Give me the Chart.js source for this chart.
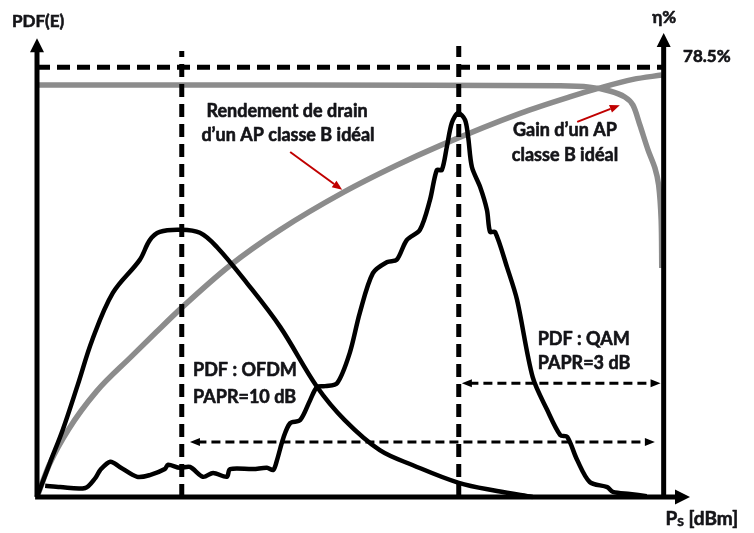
<!DOCTYPE html>
<html><head><meta charset="utf-8">
<script src="https://cdn.jsdelivr.net/npm/chart.js@4.4.1/dist/chart.umd.min.js"></script>
<style>html,body{margin:0;padding:0;background:#fff;}#wrap{width:754px;height:533px;}</style>
</head><body><div id="wrap"><canvas id="c" width="754" height="533"></canvas></div>
<script>
// Output power axis (normalised, 0 = origin, 100 = saturation) and PDF / efficiency values
const ofdmPs  = [0, 2.1, 4.1, 6.5, 8.8, 12.1, 16.4, 18.0, 19.6, 22.8, 26.0, 28.7, 33.5, 38.8, 44.7, 49.1, 54.7, 60.0, 67.3, 73.4, 79.1];
const ofdmPdf = [0, 8.1, 15.6, 26.1, 36.5, 47.5, 55.2, 59.8, 61.7, 62.2, 61.5, 58.2, 49.8, 39.6, 25.6, 17.9, 10.9, 7.4, 3.3, 1.4, 0];

const qamPs  = [1.3, 3.7, 7.7, 9.3, 10.1, 11.7, 13.2, 16.0, 18.0, 20.4, 20.9, 22.8, 24.4, 26.5, 28.1, 30.3, 30.8, 34.5, 36.7, 37.7, 38.3, 39.3, 40.4, 42.0, 43.6, 44.7, 46.0, 47.9, 49.9, 51.5, 53.6, 55.9, 57.4, 59.0, 61.1, 62.7, 63.8, 64.6, 65.4, 66.2, 67.2, 68.3, 68.8, 69.4, 70.7, 71.8, 72.3, 73.1, 75.0, 76.6, 79.1, 81.4, 83.5, 84.6, 86.2, 88.2, 91.0, 91.9, 94.6, 97.3];
const qamPdf = [2.6, 2.3, 2.1, 4.4, 6.3, 8.2, 7.0, 4.7, 5.1, 6.5, 7.5, 6.8, 7.0, 4.7, 5.6, 4.7, 6.5, 6.5, 6.8, 6.3, 8.6, 13.7, 17.2, 17.9, 22.6, 25.6, 25.8, 26.5, 33.5, 42.8, 52.1, 54.7, 55.2, 59.8, 62.2, 69.1, 76.1, 76.1, 81.5, 87.1, 89.4, 87.8, 83.8, 76.8, 72.2, 66.8, 61.7, 61.7, 53.5, 45.9, 27.9, 20.3, 14.4, 14.0, 8.6, 3.5, 2.3, 1.2, 0.7, 0.2];

// Drain efficiency of an ideal class B PA (eta %, 78.5 at saturation)
const effPs  = [0, 2, 5, 9.5, 15, 19, 23.1, 30.8, 38.8, 48.8, 57.4, 64.3, 77.1, 85, 89.4, 95.1, 99.7];
const effEta = [0, 6.0, 12.3, 19.3, 25.6, 30.1, 34.6, 42.3, 48.8, 55.6, 60.6, 64.2, 70.1, 73.1, 74.6, 76.3, 77.1];

// Gain of an ideal class B PA (same vertical units as the PDF)
const gainPs  = [0, 42, 83.5, 88.2, 91.4, 93.8, 95.1, 96.2, 97.5, 98.6, 99.2, 99.6, 99.7];
const gainVal = [95.9, 95.9, 95.7, 95.4, 94.5, 93.1, 91.2, 86.6, 80.8, 76.6, 72.6, 64.5, 53.3];

// Reference levels
const etaMax = 78.5;          // class B maximum efficiency
const ofdmMeanPs = 23.1;      // mean power of the OFDM signal
const qamMeanPs = 67.3;       // mean power of the QAM signal
const satPs = 100;            // saturation power
const ofdmPaprLevel = 12.8;   // height of the OFDM PAPR span
const qamPaprLevel = 26.5;    // height of the QAM PAPR span
const ofdmPaprStart = 24.4, ofdmPaprEnd = 98.6;
const qamPaprStart = 67.8, qamPaprEnd = 99.5;

const yMax = 108, xMax = 105;
const pts = (xs, ys) => xs.map((x, i) => ({x: x, y: ys[i]}));
const etaToY = v => v / etaMax * 100;

const BLACK = '#000000', GREY = '#8c8c8c', RED = '#c00000', TXT = '#141418';
const FONT = 'Lato, "DejaVu Sans", sans-serif';

function seg(data, opts) {
  return Object.assign({data: data, pointRadius: 0, fill: false, clip: false, tension: 0, borderCapStyle: 'butt'}, opts);
}

const datasets = [
  // axes
  seg([{x:0,y:0},{x:0,y:104}], {borderColor: BLACK, borderWidth: 5, order: 1}),
  seg([{x:satPs,y:0},{x:satPs,y:105}], {borderColor: BLACK, borderWidth: 5, order: 1}),
  seg([{x:-0.3,y:0},{x:102,y:0}], {borderColor: BLACK, borderWidth: 5, order: 1}),
  // guide lines
  seg([{x:0,y:100},{x:satPs,y:100}], {borderColor: BLACK, borderWidth: 5, borderDash: [13, 7], order: 2}),
  seg([{x:ofdmMeanPs,y:0},{x:ofdmMeanPs,y:103.8}], {borderColor: BLACK, borderWidth: 5, borderDash: [13, 7], order: 2}),
  seg([{x:qamMeanPs,y:0},{x:qamMeanPs,y:105}], {borderColor: BLACK, borderWidth: 5, borderDash: [13, 7], order: 2}),
  seg([{x:ofdmPaprStart+1.2,y:ofdmPaprLevel},{x:ofdmPaprEnd-1.2,y:ofdmPaprLevel}], {borderColor: BLACK, borderWidth: 3, borderDash: [9, 5], order: 2}),
  seg([{x:qamPaprStart+1.2,y:qamPaprLevel},{x:qamPaprEnd-1.2,y:qamPaprLevel}], {borderColor: BLACK, borderWidth: 3, borderDash: [9, 5], order: 2}),
  // curves
  seg(pts(ofdmPs, ofdmPdf), {borderColor: BLACK, borderWidth: 4.5, tension: 0.35, order: 3, borderJoinStyle: 'round'}),
  seg(pts(qamPs, qamPdf), {borderColor: BLACK, borderWidth: 4.5, tension: 0.3, order: 3, borderJoinStyle: 'round'}),
  seg(pts(effPs, effEta.map(etaToY)), {borderColor: GREY, borderWidth: 5.5, cubicInterpolationMode: 'monotone', order: 6}),
  seg(pts(gainPs, gainVal), {borderColor: GREY, borderWidth: 5.5, tension: 0.3, order: 6, borderJoinStyle: 'round'})
];

// arrow heads: tip position, direction, length, half-width, colour
const heads = [
  {x: 0, y: 106.8, dir: 'up', len: 14, half: 7, color: BLACK},
  {x: satPs, y: 108, dir: 'up', len: 14, half: 7, color: BLACK},
  {x: 104.2, y: 0, dir: 'right', len: 15, half: 7.5, color: BLACK},
  {x: ofdmPaprStart, y: ofdmPaprLevel, dir: 'left', len: 10, half: 4, color: BLACK},
  {x: ofdmPaprEnd, y: ofdmPaprLevel, dir: 'right', len: 10, half: 4, color: BLACK},
  {x: qamPaprStart, y: qamPaprLevel, dir: 'left', len: 10, half: 4, color: BLACK},
  {x: qamPaprEnd, y: qamPaprLevel, dir: 'right', len: 10, half: 4, color: BLACK}
];

// red pointers from the captions to the curves
const pointers = [
  {x0: 40.4, y0: 80.3, x1: 48.7, y1: 71.5},
  {x0: 86.2, y0: 87.3, x1: 93.0, y1: 91.2}
];

// captions: text, anchor (data units), alignment, font size
const captions = [
  {t: 'PDF(E)', x: -4.0, y: 110.6, a: 'left', s: 17},
  {t: 'η%', x: 100.1, y: 111.7, a: 'center', s: 17},
  {t: '78.5%', x: 103.1, y: 102.5, a: 'left', s: 17},
  {t: 'Rendement de drain', x: 39.9, y: 89.9, a: 'center', s: 18},
  {t: 'd\u2019un AP classe B idéal', x: 40.05, y: 84.3, a: 'center', s: 18},
  {t: 'Gain d\u2019un AP', x: 84.25, y: 85.4, a: 'center', s: 18},
  {t: 'classe B idéal', x: 84.25, y: 79.6, a: 'center', s: 18},
  {t: 'PDF : OFDM', x: 24.9, y: 29.6, a: 'left', s: 18},
  {t: 'PAPR=10 dB', x: 24.9, y: 23.3, a: 'left', s: 18},
  {t: 'PDF : QAM', x: 79.9, y: 36.8, a: 'left', s: 18},
  {t: 'PAPR=3 dB', x: 79.9, y: 31.2, a: 'left', s: 18}
];

function boldText(ctx, t, x, y) {
  ctx.fillText(t, x, y);
  ctx.strokeText(t, x, y);
}

const decor = {
  id: 'decor',
  afterDatasetsDraw(chart) {
    const ctx = chart.ctx, xs = chart.scales.x, ys = chart.scales.y;
    const px = v => xs.getPixelForValue(v), py = v => ys.getPixelForValue(v);
    ctx.save();
    heads.forEach(h => {
      const X = px(h.x), Y = py(h.y);
      ctx.fillStyle = h.color;
      ctx.beginPath();
      if (h.dir === 'up') { ctx.moveTo(X, Y); ctx.lineTo(X - h.half, Y + h.len); ctx.lineTo(X + h.half, Y + h.len); }
      else if (h.dir === 'right') { ctx.moveTo(X, Y); ctx.lineTo(X - h.len, Y - h.half); ctx.lineTo(X - h.len, Y + h.half); }
      else { ctx.moveTo(X, Y); ctx.lineTo(X + h.len, Y - h.half); ctx.lineTo(X + h.len, Y + h.half); }
      ctx.closePath(); ctx.fill();
    });
    pointers.forEach(p => {
      const X0 = px(p.x0), Y0 = py(p.y0), X1 = px(p.x1), Y1 = py(p.y1);
      const ang = Math.atan2(Y1 - Y0, X1 - X0), L = 10, W = 4;
      const bx = X1 - L * Math.cos(ang), by = Y1 - L * Math.sin(ang);
      ctx.strokeStyle = RED; ctx.lineWidth = 2;
      ctx.beginPath(); ctx.moveTo(X0, Y0); ctx.lineTo(bx, by); ctx.stroke();
      ctx.fillStyle = RED; ctx.beginPath();
      ctx.moveTo(X1, Y1);
      ctx.lineTo(bx + W * Math.sin(ang), by - W * Math.cos(ang));
      ctx.lineTo(bx - W * Math.sin(ang), by + W * Math.cos(ang));
      ctx.closePath(); ctx.fill();
    });
    ctx.fillStyle = TXT; ctx.strokeStyle = TXT; ctx.lineWidth = 0.6; ctx.lineJoin = 'round';
    ctx.textBaseline = 'middle';
    captions.forEach(c => {
      ctx.font = '700 ' + c.s + 'px ' + FONT;
      ctx.textAlign = c.a;
      boldText(ctx, c.t, px(c.x), py(c.y));
    });
    // horizontal axis title with subscript
    const X = px(100.3), Y = py(-5.0);
    ctx.textAlign = 'left';
    ctx.font = '700 19px ' + FONT;
    boldText(ctx, 'P', X, Y);
    const wP = ctx.measureText('P').width;
    ctx.font = '700 12px ' + FONT;
    boldText(ctx, 'S', X + wP, Y + 4);
    const wS = ctx.measureText('S').width;
    ctx.font = '700 19px ' + FONT;
    boldText(ctx, ' [dBm]', X + wP + wS, Y);
    ctx.restore();
  }
};

new Chart(document.getElementById('c'), {
  type: 'line',
  data: {datasets: datasets},
  options: {
    responsive: false, animation: false, devicePixelRatio: 1,
    layout: {padding: {left: 37, right: 59, top: 33, bottom: 36}},
    plugins: {legend: {display: false}, tooltip: {enabled: false}},
    scales: {
      x: {type: 'linear', min: 0, max: xMax, display: false},
      y: {type: 'linear', min: 0, max: yMax, display: false}
    }
  },
  plugins: [decor]
});
</script></body></html>
